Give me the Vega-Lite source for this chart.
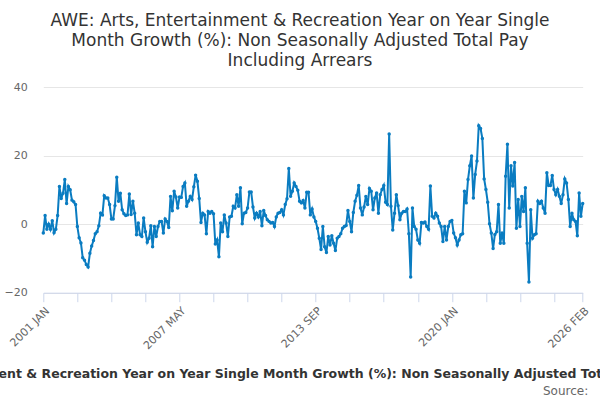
{
  "$schema": "https://vega.github.io/schema/vega-lite/v6.json",
  "width": 539.4,
  "height": 205.7,
  "autosize": "none",
  "padding": {"left": 43.3, "top": 87, "right": 17.3, "bottom": 107.3},
  "background": "#ffffff",
  "view": {"stroke": null},
  "title": {
    "text": [
      "AWE: Arts, Entertainment & Recreation Year on Year Single",
      "Month Growth (%): Non Seasonally Adjusted Total Pay",
      "Including Arrears"
    ],
    "font": "DejaVu Sans",
    "fontSize": 17,
    "fontWeight": "normal",
    "color": "#333333",
    "anchor": "middle",
    "frame": "group",
    "dx": -13,
    "lineHeight": 20,
    "offset": 11
  },
  "data": {
    "values": [
      {"m": "2001 JAN", "v": -2.6}, {"m": "2001 FEB", "v": 2.5}, {"m": "2001 MAR", "v": -1.5}, {"m": "2001 APR", "v": 0}, {"m": "2001 MAY", "v": -1.5}, {"m": "2001 JUN", "v": 1.0}, {"m": "2001 JUL", "v": -2.5}, {"m": "2001 AUG", "v": -1.5}, {"m": "2001 SEP", "v": 2.5}, {"m": "2001 OCT", "v": 11}, {"m": "2001 NOV", "v": 7.5}, {"m": "2001 DEC", "v": 9},
      {"m": "2002 JAN", "v": 13}, {"m": "2002 FEB", "v": 6}, {"m": "2002 MAR", "v": 11}, {"m": "2002 APR", "v": 10}, {"m": "2002 MAY", "v": 7}, {"m": "2002 JUN", "v": 6.5}, {"m": "2002 JUL", "v": 5.7}, {"m": "2002 AUG", "v": -0.7}, {"m": "2002 SEP", "v": -4}, {"m": "2002 OCT", "v": -5.5}, {"m": "2002 NOV", "v": -9.8}, {"m": "2002 DEC", "v": -10.5},
      {"m": "2003 JAN", "v": -11.8}, {"m": "2003 FEB", "v": -12.5}, {"m": "2003 MAR", "v": -8.5}, {"m": "2003 APR", "v": -6.4}, {"m": "2003 MAY", "v": -4.8}, {"m": "2003 JUN", "v": -2.8}, {"m": "2003 JUL", "v": -2.2}, {"m": "2003 AUG", "v": -0.5}, {"m": "2003 SEP", "v": 3.2}, {"m": "2003 OCT", "v": 2.7}, {"m": "2003 NOV", "v": 8.3}, {"m": "2003 DEC", "v": 7.6},
      {"m": "2004 JAN", "v": 7.6}, {"m": "2004 FEB", "v": 5.7}, {"m": "2004 MAR", "v": 1.5}, {"m": "2004 APR", "v": 1.5}, {"m": "2004 MAY", "v": 5.4}, {"m": "2004 JUN", "v": 13.7}, {"m": "2004 JUL", "v": 6.7}, {"m": "2004 AUG", "v": 9}, {"m": "2004 SEP", "v": 4.2}, {"m": "2004 OCT", "v": 3}, {"m": "2004 NOV", "v": 2.5}, {"m": "2004 DEC", "v": 2.7},
      {"m": "2005 JAN", "v": 8.8}, {"m": "2005 FEB", "v": 2.8}, {"m": "2005 MAR", "v": 6.7}, {"m": "2005 APR", "v": 3.2}, {"m": "2005 MAY", "v": -3.1}, {"m": "2005 JUN", "v": 0.3}, {"m": "2005 JUL", "v": -3.1}, {"m": "2005 AUG", "v": -3.6}, {"m": "2005 SEP", "v": 1.8}, {"m": "2005 OCT", "v": -2.2}, {"m": "2005 NOV", "v": -5.3}, {"m": "2005 DEC", "v": -4.1},
      {"m": "2006 JAN", "v": -0.5}, {"m": "2006 FEB", "v": -6.6}, {"m": "2006 MAR", "v": -0.7}, {"m": "2006 APR", "v": -3.6}, {"m": "2006 MAY", "v": -0.7}, {"m": "2006 JUN", "v": 0.8}, {"m": "2006 JUL", "v": 0.8}, {"m": "2006 AUG", "v": -2.6}, {"m": "2006 SEP", "v": 1.5}, {"m": "2006 OCT", "v": 0.8}, {"m": "2006 NOV", "v": -1}, {"m": "2006 DEC", "v": 8.1},
      {"m": "2007 JAN", "v": 3.9}, {"m": "2007 FEB", "v": 9.6}, {"m": "2007 MAR", "v": 7.9}, {"m": "2007 APR", "v": 4.7}, {"m": "2007 MAY", "v": 7.9}, {"m": "2007 JUN", "v": 7.8}, {"m": "2007 JUL", "v": 11}, {"m": "2007 AUG", "v": 12}, {"m": "2007 SEP", "v": 5.2}, {"m": "2007 OCT", "v": 6.7}, {"m": "2007 NOV", "v": 8.1}, {"m": "2007 DEC", "v": 7.2},
      {"m": "2008 JAN", "v": 10.9}, {"m": "2008 FEB", "v": 14.3}, {"m": "2008 MAR", "v": 12.5}, {"m": "2008 APR", "v": 7.5}, {"m": "2008 MAY", "v": 0.5}, {"m": "2008 JUN", "v": 3.2}, {"m": "2008 JUL", "v": 2.7}, {"m": "2008 AUG", "v": -2.8}, {"m": "2008 SEP", "v": 3.7}, {"m": "2008 OCT", "v": 3.2}, {"m": "2008 NOV", "v": 3.7}, {"m": "2008 DEC", "v": 3.0},
      {"m": "2009 JAN", "v": -5.8}, {"m": "2009 FEB", "v": -4.6}, {"m": "2009 MAR", "v": -9.5}, {"m": "2009 APR", "v": 0.3}, {"m": "2009 MAY", "v": -2.2}, {"m": "2009 JUN", "v": 2.7}, {"m": "2009 JUL", "v": 0.3}, {"m": "2009 AUG", "v": -3.6}, {"m": "2009 SEP", "v": 2.1}, {"m": "2009 OCT", "v": 2.3}, {"m": "2009 NOV", "v": 5.2}, {"m": "2009 DEC", "v": 4.7},
      {"m": "2010 JAN", "v": 8.6}, {"m": "2010 FEB", "v": 5.2}, {"m": "2010 MAR", "v": 10.6}, {"m": "2010 APR", "v": 0.1}, {"m": "2010 MAY", "v": 3.2}, {"m": "2010 JUN", "v": 3.4}, {"m": "2010 JUL", "v": 4.7}, {"m": "2010 AUG", "v": 9.4}, {"m": "2010 SEP", "v": 9.4}, {"m": "2010 OCT", "v": 5}, {"m": "2010 NOV", "v": 1.8}, {"m": "2010 DEC", "v": 3.2},
      {"m": "2011 JAN", "v": 2.1}, {"m": "2011 FEB", "v": 3.7}, {"m": "2011 MAR", "v": -0.5}, {"m": "2011 APR", "v": 4}, {"m": "2011 MAY", "v": 2.5}, {"m": "2011 JUN", "v": 1.3}, {"m": "2011 JUL", "v": 0.8}, {"m": "2011 AUG", "v": 0.3}, {"m": "2011 SEP", "v": 0.5}, {"m": "2011 OCT", "v": -0.7}, {"m": "2011 NOV", "v": 2.1}, {"m": "2011 DEC", "v": 3.2},
      {"m": "2012 JAN", "v": 3.4}, {"m": "2012 FEB", "v": 4.2}, {"m": "2012 MAR", "v": 2.7}, {"m": "2012 APR", "v": 5.7}, {"m": "2012 MAY", "v": 7.4}, {"m": "2012 JUN", "v": 16.2}, {"m": "2012 JUL", "v": 8.1}, {"m": "2012 AUG", "v": 9.6}, {"m": "2012 SEP", "v": 12}, {"m": "2012 OCT", "v": 11}, {"m": "2012 NOV", "v": 9.9}, {"m": "2012 DEC", "v": 6.7},
      {"m": "2013 JAN", "v": 6.2}, {"m": "2013 FEB", "v": 6.9}, {"m": "2013 MAR", "v": 4.7}, {"m": "2013 APR", "v": 9.3}, {"m": "2013 MAY", "v": 9.3}, {"m": "2013 JUN", "v": 2.7}, {"m": "2013 JUL", "v": 4.4}, {"m": "2013 AUG", "v": 2.1}, {"m": "2013 SEP", "v": 0.8}, {"m": "2013 OCT", "v": -1.2}, {"m": "2013 NOV", "v": -4.1}, {"m": "2013 DEC", "v": -7.4},
      {"m": "2014 JAN", "v": -0.7}, {"m": "2014 FEB", "v": -6.6}, {"m": "2014 MAR", "v": -8.3}, {"m": "2014 APR", "v": -3.6}, {"m": "2014 MAY", "v": -6.1}, {"m": "2014 JUN", "v": -3.4}, {"m": "2014 JUL", "v": -5.6}, {"m": "2014 AUG", "v": -7.7}, {"m": "2014 SEP", "v": -4.1}, {"m": "2014 OCT", "v": -3.6}, {"m": "2014 NOV", "v": -2.8}, {"m": "2014 DEC", "v": -1.2},
      {"m": "2015 JAN", "v": -0.7}, {"m": "2015 FEB", "v": -0.4}, {"m": "2015 MAR", "v": 4}, {"m": "2015 APR", "v": 0.8}, {"m": "2015 MAY", "v": -2.2}, {"m": "2015 JUN", "v": 3.4}, {"m": "2015 JUL", "v": 6.7}, {"m": "2015 AUG", "v": 8.4}, {"m": "2015 SEP", "v": 11.3}, {"m": "2015 OCT", "v": 4.7}, {"m": "2015 NOV", "v": 2.7}, {"m": "2015 DEC", "v": 5.0},
      {"m": "2016 JAN", "v": 8.1}, {"m": "2016 FEB", "v": 5.7}, {"m": "2016 MAR", "v": 10.4}, {"m": "2016 APR", "v": 9.6}, {"m": "2016 MAY", "v": 4.2}, {"m": "2016 JUN", "v": 7.6}, {"m": "2016 JUL", "v": 9.1}, {"m": "2016 AUG", "v": 3.2}, {"m": "2016 SEP", "v": 8.6}, {"m": "2016 OCT", "v": 10.1}, {"m": "2016 NOV", "v": 11.3}, {"m": "2016 DEC", "v": 6.4},
      {"m": "2017 JAN", "v": 5.7}, {"m": "2017 FEB", "v": 26.3}, {"m": "2017 MAR", "v": 5.2}, {"m": "2017 APR", "v": -1.7}, {"m": "2017 MAY", "v": 3.2}, {"m": "2017 JUN", "v": 8.6}, {"m": "2017 JUL", "v": 5.4}, {"m": "2017 AUG", "v": 1.3}, {"m": "2017 SEP", "v": 3.2}, {"m": "2017 OCT", "v": 3.7}, {"m": "2017 NOV", "v": 3.7}, {"m": "2017 DEC", "v": 4.4},
      {"m": "2018 JAN", "v": -2.8}, {"m": "2018 FEB", "v": -15.4}, {"m": "2018 MAR", "v": 4.7}, {"m": "2018 APR", "v": -0.7}, {"m": "2018 MAY", "v": -1.5}, {"m": "2018 JUN", "v": -4.6}, {"m": "2018 JUL", "v": -5.6}, {"m": "2018 AUG", "v": 0.5}, {"m": "2018 SEP", "v": 0.3}, {"m": "2018 OCT", "v": 0.6}, {"m": "2018 NOV", "v": -0.7}, {"m": "2018 DEC", "v": -1.5},
      {"m": "2019 JAN", "v": 11.1}, {"m": "2019 FEB", "v": 2.3}, {"m": "2019 MAR", "v": 1.8}, {"m": "2019 APR", "v": 3.2}, {"m": "2019 MAY", "v": 2.3}, {"m": "2019 JUN", "v": 0.3}, {"m": "2019 JUL", "v": -0.7}, {"m": "2019 AUG", "v": -5.1}, {"m": "2019 SEP", "v": -0.7}, {"m": "2019 OCT", "v": -4.6}, {"m": "2019 NOV", "v": -0.7}, {"m": "2019 DEC", "v": 0.8},
      {"m": "2020 JAN", "v": 1.1}, {"m": "2020 FEB", "v": -2.6}, {"m": "2020 MAR", "v": -4.0}, {"m": "2020 APR", "v": -6.1}, {"m": "2020 MAY", "v": -4.6}, {"m": "2020 JUN", "v": -3.1}, {"m": "2020 JUL", "v": -2.8}, {"m": "2020 AUG", "v": 9.6}, {"m": "2020 SEP", "v": 6.2}, {"m": "2020 OCT", "v": 13}, {"m": "2020 NOV", "v": 17}, {"m": "2020 DEC", "v": 19.9},
      {"m": "2021 JAN", "v": 7.6}, {"m": "2021 FEB", "v": 14.5}, {"m": "2021 MAR", "v": 18.4}, {"m": "2021 APR", "v": 28.7}, {"m": "2021 MAY", "v": 27.9}, {"m": "2021 JUN", "v": 25}, {"m": "2021 JUL", "v": 13.2}, {"m": "2021 AUG", "v": 10.1}, {"m": "2021 SEP", "v": 6.4}, {"m": "2021 OCT", "v": 0.1}, {"m": "2021 NOV", "v": -2.6}, {"m": "2021 DEC", "v": -7.1},
      {"m": "2022 JAN", "v": -3}, {"m": "2022 FEB", "v": -2.2}, {"m": "2022 MAR", "v": 5.7}, {"m": "2022 APR", "v": -5.6}, {"m": "2022 MAY", "v": -2.6}, {"m": "2022 JUN", "v": -5.6}, {"m": "2022 JUL", "v": 14}, {"m": "2022 AUG", "v": 23.3}, {"m": "2022 SEP", "v": 4.7}, {"m": "2022 OCT", "v": 17}, {"m": "2022 NOV", "v": 11.1}, {"m": "2022 DEC", "v": 18},
      {"m": "2023 JAN", "v": -1.2}, {"m": "2023 FEB", "v": 7.2}, {"m": "2023 MAR", "v": -0.7}, {"m": "2023 APR", "v": 8.1}, {"m": "2023 MAY", "v": 3.7}, {"m": "2023 JUN", "v": 10.6}, {"m": "2023 JUL", "v": -5.6}, {"m": "2023 AUG", "v": -16.9}, {"m": "2023 SEP", "v": 4.2}, {"m": "2023 OCT", "v": -4.1}, {"m": "2023 NOV", "v": -3.1}, {"m": "2023 DEC", "v": -2.8},
      {"m": "2024 JAN", "v": 6.7}, {"m": "2024 FEB", "v": 6}, {"m": "2024 MAR", "v": 6.7}, {"m": "2024 APR", "v": 4.7}, {"m": "2024 MAY", "v": 3.2}, {"m": "2024 JUN", "v": 15}, {"m": "2024 JUL", "v": 11.3}, {"m": "2024 AUG", "v": 11.3}, {"m": "2024 SEP", "v": 14.2}, {"m": "2024 OCT", "v": 10.1}, {"m": "2024 NOV", "v": 8.6}, {"m": "2024 DEC", "v": 10.1},
      {"m": "2025 JAN", "v": 8.1}, {"m": "2025 FEB", "v": 6}, {"m": "2025 MAR", "v": 8.6}, {"m": "2025 APR", "v": 13.2}, {"m": "2025 MAY", "v": 12}, {"m": "2025 JUN", "v": 7.2}, {"m": "2025 JUL", "v": -0.7}, {"m": "2025 AUG", "v": 3.2}, {"m": "2025 SEP", "v": 1.3}, {"m": "2025 OCT", "v": 0.8}, {"m": "2025 NOV", "v": -3.4}, {"m": "2025 DEC", "v": 9.1},
      {"m": "2026 JAN", "v": 2.3}, {"m": "2026 FEB", "v": 6}
    ]
  },
  "encoding": {
    "x": {
      "field": "m",
      "type": "ordinal",
      "sort": null,
      "scale": {"type": "point", "padding": 0},
      "axis": {
        "values": ["2001 JAN", "2002 AUG", "2004 MAR", "2005 OCT", "2007 MAY", "2008 DEC", "2010 JUL", "2012 FEB", "2013 SEP", "2015 APR", "2016 NOV", "2018 JUN", "2020 JAN", "2021 AUG", "2023 MAR", "2024 OCT", "2026 FEB"],
        "labelExpr": "indexof(['2001 JAN', '2007 MAY', '2013 SEP', '2020 JAN', '2026 FEB'], datum.value) >= 0 ? datum.value : ''",
        "labelAngle": -45,
        "labelOverlap": false,
        "labelFont": "DejaVu Sans",
        "labelFontSize": 11,
        "labelColor": "#666666",
        "labelPadding": 3,
        "domainColor": "#ccd6eb",
        "tickColor": "#ccd6eb",
        "tickSize": 9,
        "grid": false,
        "title": "AWE: Arts, Entertainment & Recreation Year on Year Single Month Growth (%): Non Seasonally Adjusted Total Pay Including Arrears",
        "titleFont": "DejaVu Sans",
        "titleFontSize": 12.5,
        "titleFontWeight": "bold",
        "titleColor": "#333333",
        "titleLimit": 0,
        "titleX": 262,
        "titlePadding": 17
      }
    },
    "y": {
      "field": "v",
      "type": "quantitative",
      "scale": {"domain": [-20, 40], "nice": false, "zero": false},
      "axis": {
        "values": [-20, 0, 20, 40],
        "title": null,
        "domain": false,
        "ticks": false,
        "gridColor": "#e6e6e6",
        "labelFont": "DejaVu Sans",
        "labelFontSize": 11,
        "labelColor": "#666666",
        "labelPadding": 16
      }
    }
  },
  "layer": [
    {
      "mark": {
        "type": "line",
        "color": "#0a7cc1",
        "strokeWidth": 2,
        "point": {"filled": true, "size": 12, "color": "#0a7cc1"}
      }
    },
    {
      "transform": [{"filter": "datum.m == '2026 FEB'"}],
      "mark": {
        "type": "text",
        "text": "Source:",
        "align": "right",
        "baseline": "alphabetic",
        "dx": 5.5,
        "dy": 102.3,
        "font": "DejaVu Sans",
        "fontSize": 12,
        "color": "#666666"
      },
      "encoding": {
        "y": {"datum": -20, "type": "quantitative"}
      }
    }
  ]
}
